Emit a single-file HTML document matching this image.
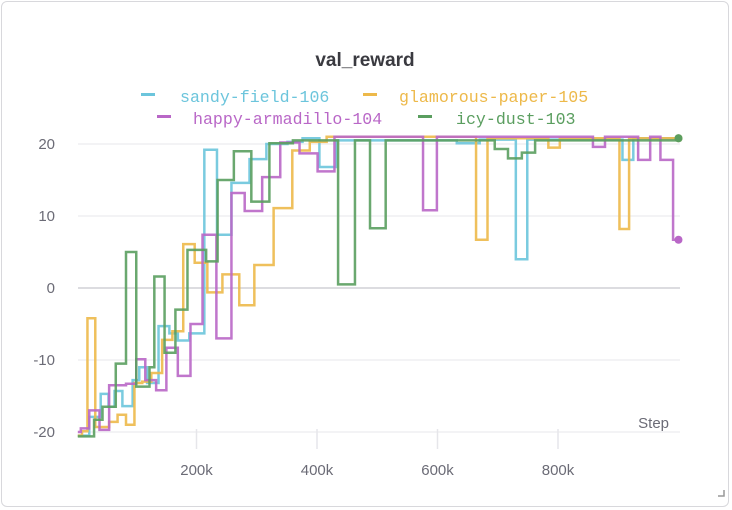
<!DOCTYPE html>
<html><head><meta charset="utf-8"><style>
html,body{margin:0;padding:0;background:#fff;}
body{width:732px;height:510px;overflow:hidden;font-family:"Liberation Sans",sans-serif;}
#card{position:absolute;left:1px;top:1px;width:728px;height:506px;border:1px solid #d8d8dc;border-radius:6px;box-sizing:border-box;}
</style></head><body>
<div id="card"></div>
<svg id="chart" width="732" height="510" style="position:absolute;left:0;top:0">
<text x="365" y="66" text-anchor="middle" font-size="19" font-weight="bold" fill="#3a3a40" font-family="Liberation Sans, sans-serif">val_reward</text>
<g font-family="Liberation Mono, monospace" font-size="16.6">
<g><rect x="141" y="93" width="14" height="3" fill="#6cc5dc"/><text x="180" y="102" fill="#6cc5dc">sandy-field-106</text></g>
<g><rect x="363" y="93" width="14" height="3" fill="#edb94a"/><text x="399" y="102" fill="#edb94a">glamorous-paper-105</text></g>
<g><rect x="157" y="115" width="14" height="3" fill="#b967c7"/><text x="193" y="124" fill="#b967c7">happy-armadillo-104</text></g>
<g><rect x="418" y="115" width="14" height="3" fill="#5a9e5f"/><text x="456" y="124" fill="#5a9e5f">icy-dust-103</text></g>
</g>
<g id="axes"></g>
<g id="series"></g>
<text x="669" y="428" text-anchor="end" font-size="15" fill="#6b6b76">Step</text>
<path d="M718 496 L724 496 L724 490" stroke="#999" stroke-width="1.5" fill="none"/>
</svg>
<script>
const xTicks=[200,400,600,800];
const xTickLabels=["200k","400k","600k","800k"];
const yTicks=[20,10,0,-10,-20];
const yTickLabels=["20","10","0","-10","-20"];
const seriesNames=["sandy-field-106","glamorous-paper-105","happy-armadillo-104","icy-dust-103"];
const seriesColors=["#6cc5dc","#edb94a","#b967c7","#5a9e5f"];
// step change points: [step (k), value]
const sandyField=[[3,-20.5],[22,-17.9],[41,-14.7],[54,-16.5],[64,-14.3],[77,-16.4],[94,-12.8],[105,-11],[118,-13.2],[137,-5.3],[155,-6.3],[169,-7.3],[188,-6.3],[213,19.2],[234,7.4],[258,14.6],[288,17.9],[316,20],[351,20.3],[376,20.8],[404,16.8],[432,20.5],[632,20.1],[670,20.6],[730,4.0],[749,20.6],[907,17.8],[925,20.8],[1000,20.8]];
const glamorousPaper=[[3,-20.5],[10,-19.9],[19,-4.2],[32,-19.3],[55,-18.6],[69,-17.6],[83,-19],[97,-13.2],[110,-13],[125,-11.8],[143,-7.2],[160,-6],[178,6.1],[197,3.5],[218,-0.6],[243,1.9],[271,-2.4],[296,3.2],[328,11.1],[359,19.1],[388,20.3],[416,21],[664,6.7],[683,20.8],[784,19.5],[803,20.8],[902,8.2],[918,20.8],[1000,20.8]];
const happyArmadillo=[[3,-20],[8,-19.5],[22,-17],[39,-19.7],[55,-13.5],[83,-13.3],[100,-9.9],[115,-12.8],[133,-14.2],[150,-8.3],[169,-12.2],[190,-5],[210,7.4],[233,-7],[258,13.2],[280,10.7],[309,15.4],[339,20.2],[371,18.7],[401,16.2],[429,21],[576,10.8],[599,21],[858,19.6],[878,21],[933,17.8],[953,21],[970,17.8],[991,6.7],[1000,6.7]];
const icyDust=[[3,-20.6],[30,-18.3],[44,-16.5],[66,-10.5],[83,5],[100,-13.7],[122,-11],[130,1.6],[147,-9],[165,-3],[185,5.3],[216,3.7],[235,15],[262,19],[291,12],[321,20.1],[360,20.5],[435,0.5],[463,20.5],[488,8.3],[514,20.5],[695,19.3],[717,18],[740,18.8],[762,20.5],[1000,20.8]];
const allSeries=[sandyField,glamorousPaper,happyArmadillo,icyDust];

const X0=76, XS=120.5/200, Y0=288, YS=7.2;
const xScale=v=>X0+v*XS, yScale=v=>Y0-v*YS;
const NS="http://www.w3.org/2000/svg";
const axes=document.getElementById('axes');
yTicks.forEach((t,i)=>{
  const l=document.createElementNS(NS,'line');
  l.setAttribute('x1',78);l.setAttribute('x2',680);
  l.setAttribute('y1',yScale(t));l.setAttribute('y2',yScale(t));
  l.setAttribute('stroke',t===0?'#dcdce0':'#efeff2');l.setAttribute('stroke-width',t===0?2:1.5);
  
  
  axes.appendChild(l);
  const tx=document.createElementNS(NS,'text');
  tx.setAttribute('x',55);tx.setAttribute('y',yScale(t)+5);
  tx.setAttribute('text-anchor','end');tx.setAttribute('font-size','15');tx.setAttribute('fill','#6b6b76');
  tx.textContent=yTickLabels[i];
  
  
  axes.appendChild(tx);
});
xTicks.forEach((t,i)=>{
  const l=document.createElementNS(NS,'line');
  l.setAttribute('x1',xScale(t));l.setAttribute('x2',xScale(t));
  l.setAttribute('y1',429);l.setAttribute('y2',449);
  l.setAttribute('stroke','#e6e6ea');l.setAttribute('stroke-width',1.5);
  
  
  axes.appendChild(l);
  const tx=document.createElementNS(NS,'text');
  tx.setAttribute('x',xScale(t));tx.setAttribute('y',475);
  tx.setAttribute('text-anchor','middle');tx.setAttribute('font-size','15');tx.setAttribute('fill','#6b6b76');
  tx.textContent=xTickLabels[i];
  
  
  axes.appendChild(tx);
});
const sg=document.getElementById('series');
allSeries.forEach((s,k)=>{
  let d='';
  s.forEach((p,i)=>{
    const x=xScale(p[0]),y=yScale(p[1]);
    if(i===0)d+='M'+x+' '+y;
    else d+=' H'+x+' V'+y;
  });
  const path=document.createElementNS(NS,'path');
  path.setAttribute('d',d);path.setAttribute('fill','none');
  path.setAttribute('stroke',seriesColors[k]);path.setAttribute('stroke-width',2.5);
  path.setAttribute('stroke-opacity',0.9);
  
  
  sg.appendChild(path);
  const last=s[s.length-1];
  const c=document.createElementNS(NS,'circle');
  c.setAttribute('cx',xScale(last[0]));c.setAttribute('cy',yScale(last[1]));c.setAttribute('r',4);
  c.setAttribute('fill',seriesColors[k]);
  
  
  sg.appendChild(c);
});
</script>
</body></html>
